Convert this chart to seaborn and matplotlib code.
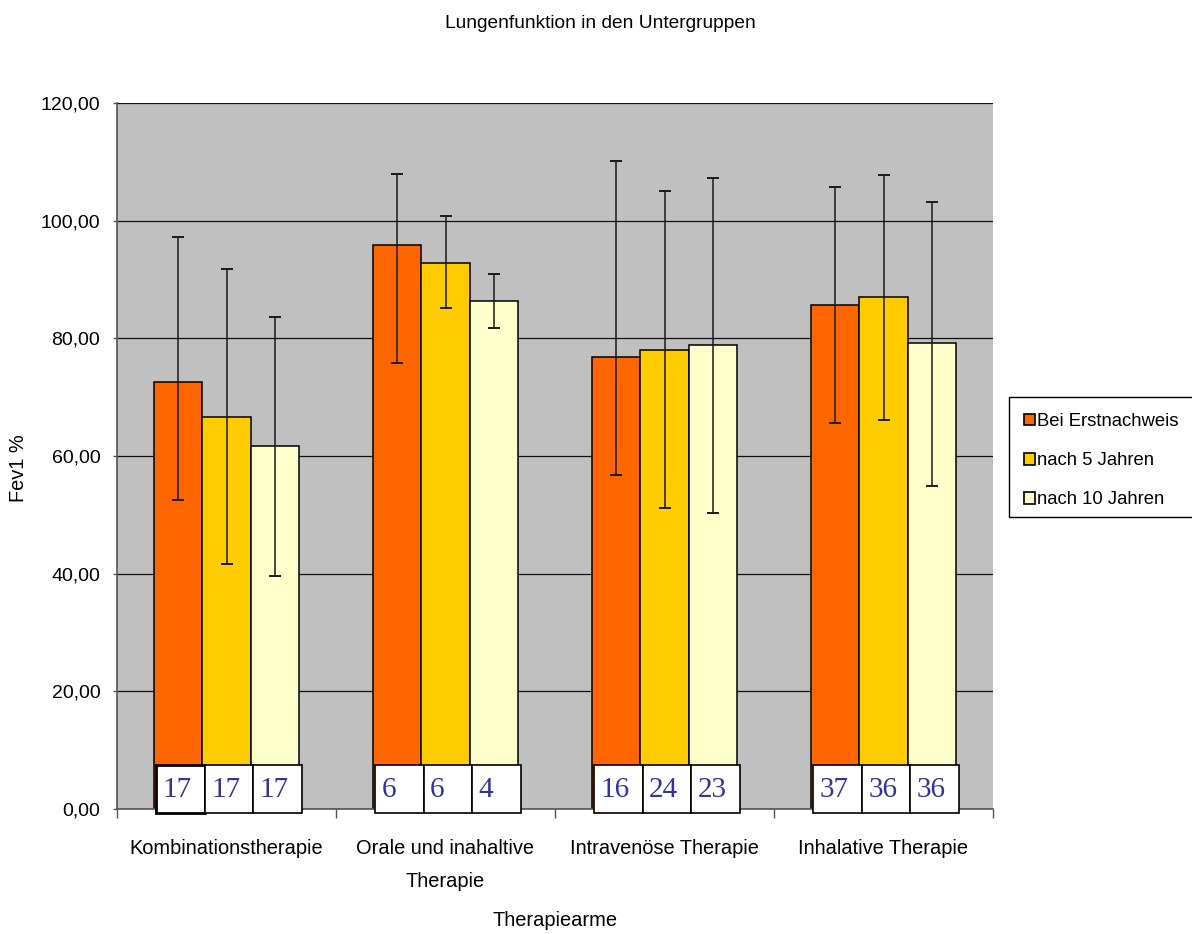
import numpy as np
import pandas as pd
import matplotlib
matplotlib.use("Agg")
import matplotlib.pyplot as plt
import seaborn as sns
from matplotlib.patches import Rectangle, Patch
from matplotlib.container import BarContainer

# ---------------- data ----------------
categories = ["Kombinationstherapie", "Orale und inahaltive\nTherapie",
              "Intravenöse Therapie", "Inhalative Therapie"]
series = ["Bei Erstnachweis", "nach 5 Jahren", "nach 10 Jahren"]

mean_erst = [72.6, 95.9, 76.9, 85.7]
mean_5j = [66.7, 92.8, 78.1, 87.0]
mean_10j = [61.7, 86.4, 78.9, 79.2]

err_low_erst = [52.6, 75.9, 56.8, 65.7]
err_high_erst = [97.3, 107.9, 110.1, 105.8]
err_low_5j = [41.7, 85.1, 51.2, 66.1]
err_high_5j = [91.8, 100.8, 105.0, 107.7]
err_low_10j = [39.6, 81.8, 50.4, 55.0]
err_high_10j = [83.7, 90.9, 107.2, 103.2]

n_erst = [17, 6, 16, 37]
n_5j = [17, 6, 24, 36]
n_10j = [17, 4, 23, 36]

yticks = [0, 20, 40, 60, 80, 100, 120]
ytick_labels = ["0,00", "20,00", "40,00", "60,00", "80,00", "100,00", "120,00"]

colors = ["#FF6600", "#FFCC00", "#FFFFCC"]

means = [mean_erst, mean_5j, mean_10j]
lows = [err_low_erst, err_low_5j, err_low_10j]
highs = [err_high_erst, err_high_5j, err_high_10j]
ns = [n_erst, n_5j, n_10j]

df = pd.DataFrame({
    "Kategorie": [c for s in series for c in categories],
    "Serie": [s for s in series for c in categories],
    "Wert": [v for m in means for v in m],
})

# ---------------- style ----------------
sns.set_style("white")
plt.rcParams["font.family"] = ["Liberation Sans", "DejaVu Sans"]
plt.rcParams["text.color"] = "black"
plt.rcParams["axes.labelcolor"] = "black"
plt.rcParams["xtick.labelcolor"] = "black"
plt.rcParams["ytick.labelcolor"] = "black"

fig = plt.figure(figsize=(11.92, 9.34), dpi=100)
ax = fig.add_axes([117 / 1192, 1 - 809.1 / 934, 876 / 1192, 706 / 934])
ax.set_facecolor("#C0C0C0")

sns.barplot(data=df, x="Kategorie", y="Wert", hue="Serie", order=categories,
            hue_order=series, palette=colors, width=0.665, gap=0,
            errorbar=None, edgecolor="black", linewidth=1.1, saturation=1,
            legend=False, ax=ax, zorder=2)

ax.set_xlim(-0.5, 3.5)
ax.set_ylim(0, 120)

bar_containers = [c for c in ax.containers if isinstance(c, BarContainer)]

# error bars and N boxes
for i, cont in enumerate(bar_containers):
    for j, bar in enumerate(cont.patches):
        xc = bar.get_x() + bar.get_width() / 2
        m = means[i][j]
        ax.errorbar([xc], [m], yerr=[[m - lows[i][j]], [highs[i][j] - m]],
                    fmt="none", ecolor="#1a1a1a", elinewidth=1.1,
                    capsize=4, capthick=1.4, zorder=4)
        bx = bar.get_x() + 2.5 / 219
        lw = 2.0 if (i == 0 and j == 0) else 1.2
        rect = Rectangle((bx, -0.72), bar.get_width(), 8.2, facecolor="white",
                         edgecolor="black", linewidth=lw, zorder=6,
                         clip_on=False)
        ax.add_patch(rect)
        ax.text(bx + 6.5 / 219, 2.1, str(ns[i][j]), fontsize=21,
                family=["Liberation Serif", "DejaVu Serif"], color="#333399",
                ha="left", va="baseline", zorder=7, clip_on=False)

# axes styling
ax.set_yticks(yticks)
ax.set_yticklabels(ytick_labels)
ax.yaxis.grid(True, color="#111111", linewidth=0.9)
ax.xaxis.grid(False)
ax.set_axisbelow(True)
for s in ["top", "right"]:
    ax.spines[s].set_visible(False)
for s in ["left", "bottom"]:
    ax.spines[s].set_color("#555555")
    ax.spines[s].set_linewidth(1.2)
    ax.spines[s].set_zorder(5)

ax.tick_params(axis="y", which="major", direction="out", length=3,
               width=1, color="#555555", pad=9, labelsize=14, left=True)
ax.set_xticks(range(len(categories)))
ax.set_xticklabels(categories, fontsize=14.4, linespacing=1.95)
ax.set_xticks(np.arange(-0.5, 4, 1.0), minor=True)
ax.tick_params(axis="x", which="major", length=0, pad=21.5)
ax.tick_params(axis="x", which="minor", direction="out", length=6.5,
               width=1, color="#555555", bottom=True)

ax.set_xlabel("Therapiearme", fontsize=14.4)
ax.xaxis.label.set_va("center")
ax.xaxis.set_label_coords(0.5, -(920 - 809.1) / 706)
ax.set_ylabel("Fev1 %", fontsize=14.4)
ax.yaxis.label.set_va("center")
ax.yaxis.set_label_coords((19 - 117) / 876, (809.1 - 468) / 706)

fig.text(600 / 1192, 1 - 23 / 934, "Lungenfunktion in den Untergruppen",
         fontsize=13.8, ha="center", va="center")

# legend
fig.patches.append(Rectangle((1009 / 1192, 1 - 517 / 934), 0.2, 120 / 934,
                             transform=fig.transFigure, facecolor="white",
                             edgecolor="black", linewidth=1.0, zorder=1))
handles = [Patch(facecolor=c, edgecolor="black", linewidth=1.2) for c in colors]
leg = fig.legend(handles, series, loc="upper left",
                 bbox_to_anchor=(1024 / 1192, 1 - 413 / 934),
                 frameon=False, fontsize=13.3, handlelength=0.6,
                 handleheight=0.6, handletextpad=0.12, labelspacing=1.2,
                 borderpad=0, borderaxespad=0)

fig.savefig("out.png", dpi=100)
